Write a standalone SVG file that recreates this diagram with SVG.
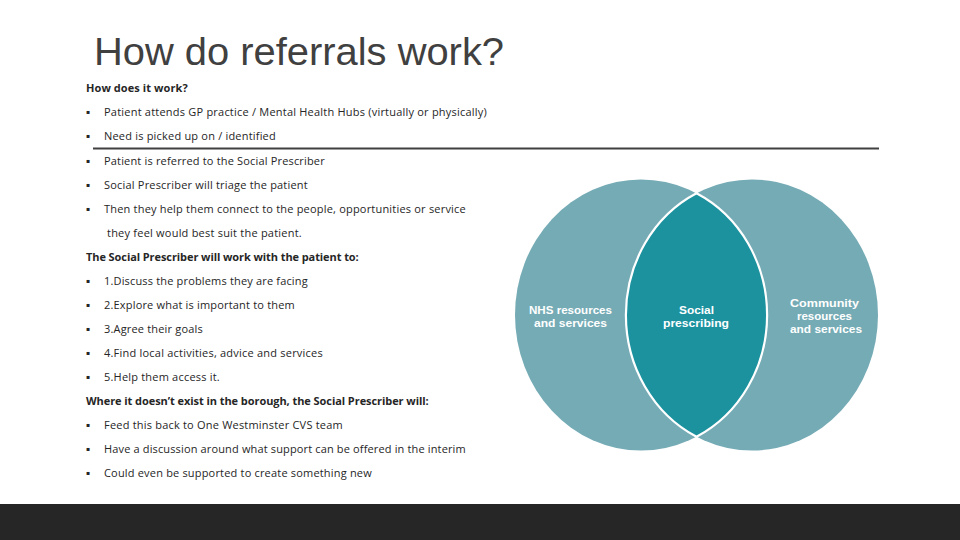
<svg xmlns="http://www.w3.org/2000/svg" width="960" height="540" viewBox="0 0 960 540">
<style>
text{font-family:"Open Sans","Noto Sans","DejaVu Sans",sans-serif}
.t{font-size:11px;fill:#262626;letter-spacing:.3px}
.d{font-family:"DejaVu Sans",sans-serif;font-size:6px;fill:#262626}
.b{font-weight:700}
.h{font-family:"Liberation Sans",Arial,sans-serif;font-size:38px;fill:#404040}
.w{font-family:"Liberation Sans",Arial,sans-serif;font-size:11.200px;font-weight:700;fill:#fff}
.c{fill:#75abb5}
</style>
<rect width="960" height="540" fill="#fff"/>
<rect id="footer" x="0" y="504" width="960" height="36" fill="#262626"/>
<text id="title" class="h" x="94" y="65" textLength="410" lengthAdjust="spacingAndGlyphs">How do referrals work?</text>
<rect id="rule" x="93" y="147.500" width="786" height="2" fill="#404040"/>
<g id="body">
<text class="t b" x="86" y="92" textLength="102">How does it work?</text>
<text class="d" x="86" y="114">▪</text><text class="t" x="104" y="116" textLength="383">Patient attends GP practice / Mental Health Hubs (virtually or physically)</text>
<text class="d" x="86" y="138">▪</text><text class="t" x="104" y="140" textLength="172">Need is picked up on / identified</text>
<text class="d" x="86" y="163">▪</text><text class="t" x="104" y="165" textLength="221">Patient is referred to the Social Prescriber</text>
<text class="d" x="86" y="187">▪</text><text class="t" x="104" y="189" textLength="204">Social Prescriber will triage the patient</text>
<text class="d" x="86" y="211">▪</text><text class="t" x="104" y="213" textLength="362">Then they help them connect to the people, opportunities or service</text>
<text class="t" x="107" y="237" textLength="195">they feel would best suit the patient.</text>
<text class="t b" x="86" y="261" textLength="273">The Social Prescriber will work with the patient to:</text>
<text class="d" x="86" y="283">▪</text><text class="t" x="104" y="285" textLength="204">1.Discuss the problems they are facing</text>
<text class="d" x="86" y="307">▪</text><text class="t" x="104" y="309" textLength="191">2.Explore what is important to them</text>
<text class="d" x="86" y="331">▪</text><text class="t" x="104" y="333" textLength="99">3.Agree their goals</text>
<text class="d" x="86" y="355">▪</text><text class="t" x="104" y="357" textLength="219">4.Find local activities, advice and services</text>
<text class="d" x="86" y="379">▪</text><text class="t" x="104" y="381" textLength="116">5.Help them access it.</text>
<text class="t b" x="86" y="405" textLength="343">Where it doesn’t exist in the borough, the Social Prescriber will:</text>
<text class="d" x="86" y="427">▪</text><text class="t" x="104" y="429" textLength="239">Feed this back to One Westminster CVS team</text>
<text class="d" x="86" y="451">▪</text><text class="t" x="104" y="453" textLength="362">Have a discussion around what support can be offered in the interim</text>
<text class="d" x="86" y="475">▪</text><text class="t" x="104" y="477" textLength="268">Could even be supported to create something new</text>
</g>
<g id="connectors"/>
<defs><clipPath id="lc"><ellipse cx="641" cy="315" rx="126" ry="135.500"/></clipPath></defs>
<g id="nhs"><ellipse class="c" cx="641" cy="315" rx="126" ry="135.500"/>
<text class="w" x="529" y="314" textLength="83" lengthAdjust="spacingAndGlyphs">NHS resources</text><text class="w" x="534" y="327" textLength="73" lengthAdjust="spacingAndGlyphs">and services</text></g>
<g id="community"><ellipse class="c" cx="752" cy="315" rx="126" ry="135.500"/>
<text class="w" x="790" y="307" textLength="69" lengthAdjust="spacingAndGlyphs">Community</text><text class="w" x="797" y="320" textLength="55" lengthAdjust="spacingAndGlyphs">resources</text><text class="w" x="790" y="333" textLength="72" lengthAdjust="spacingAndGlyphs">and services</text></g>
<g id="social">
<ellipse cx="752" cy="315" rx="126" ry="135.500" fill="#1c929f" clip-path="url(#lc)"/>
<path d="M696.500 193.300A126 135.500 0 0 1 696.500 436.700A126 135.500 0 0 1 696.500 193.300Z" fill="none" stroke="#fff" stroke-width="2.200"/>
<text class="w" x="679" y="314" textLength="35" lengthAdjust="spacingAndGlyphs">Social</text><text class="w" x="663" y="327" textLength="66" lengthAdjust="spacingAndGlyphs">prescribing</text></g>
</svg>
